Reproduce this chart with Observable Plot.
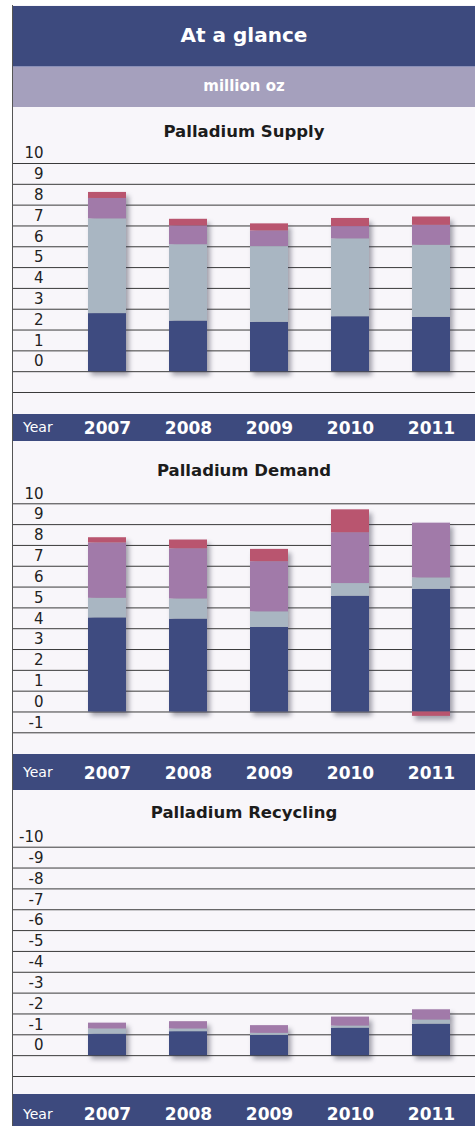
<!DOCTYPE html>
<html>
<head>
<meta charset="utf-8">
<script src="https://cdn.jsdelivr.net/npm/d3@7"></script>
<script src="https://cdn.jsdelivr.net/npm/@observablehq/plot@0.6"></script>
<style>
  html, body { margin: 0; padding: 0; background: #ffffff; }
  body { width: 475px; height: 1126px; overflow: hidden; position: relative; font-family: "DejaVu Sans", sans-serif; }
  #frame { position: absolute; left: 12px; top: 5px; width: 463px; height: 1121px; background: #f8f6fa; border-left: 1px solid #555; }
  .band { position: absolute; left: 13px; width: 462px; background: #3d4a7e; }
  .head { top: 6px; height: 60px; color: #fff; font-weight: bold; font-size: 20px; text-align: center; line-height: 58px; }
  .sub { position: absolute; left: 13px; width: 462px; top: 66px; height: 41px; background: #a5a0bd; border-top: 1px solid #8a90b8; box-sizing: border-box; color: #fff; font-weight: bold; font-size: 15px; text-align: center; line-height: 38px; }
  .title { position: absolute; left: 13px; width: 462px; height: 24px; line-height: 24px; text-align: center; font-weight: bold; font-size: 16.5px; color: #1c1c1c; }
  .year { position: absolute; color: #fff; font-size: 14px; }
  .chart { position: absolute; left: 0; }
</style>
</head>
<body>
<div id="frame"></div>
<div class="band head">At a glance</div>
<div class="sub">million oz</div>

<div class="title" style="top:120px">Palladium Supply</div>
<div class="band" style="top:414px;height:27px"><span class="year" style="left:10px;top:5px">Year</span></div>
<div class="chart" id="supply" style="top:145px"></div>

<div class="title" style="top:459px">Palladium Demand</div>
<div class="band" style="top:754px;height:36px"><span class="year" style="left:10px;top:10px">Year</span></div>
<div class="chart" id="demand" style="top:485px"></div>

<div class="title" style="top:801px">Palladium Recycling</div>
<div class="band" style="top:1094px;height:32px"><span class="year" style="left:10px;top:12px">Year</span></div>
<div class="chart" id="recycling" style="top:828px"></div>

<script>
// ---- Data (million oz) ----
const years = ["2007", "2008", "2009", "2010", "2011"];

// Supply
const supplySeries = ["South Africa", "Russia", "North America", "Others"];
const supplySouthAfrica = [2.79, 2.43, 2.37, 2.64, 2.61];
const supplyRussia      = [4.55, 3.67, 3.64, 3.74, 3.46];
const supplyNorthAmerica= [0.98, 0.90, 0.75, 0.59, 0.96];
const supplyOthers      = [0.29, 0.32, 0.34, 0.39, 0.40];
const supplyTicks = [0, 1, 2, 3, 4, 5, 6, 7, 8, 9, 10];
const supplyGrid  = [-1, 0, 1, 2, 3, 4, 5, 6, 7, 8, 9, 10];

// Demand
const demandSeries = ["Autocatalyst", "Jewellery", "Industrial", "Investment"];
const demandAutocatalyst = [4.52, 4.46, 4.06, 5.56, 5.89];
const demandJewellery    = [0.94, 0.97, 0.75, 0.61, 0.55];
const demandIndustrial   = [2.66, 2.41, 2.41, 2.44, 2.63];
const demandInvestment   = [0.25, 0.42, 0.59, 1.10, -0.21];
const demandTicks = [-1, 0, 1, 2, 3, 4, 5, 6, 7, 8, 9, 10];
const demandGrid  = [-1, 0, 1, 2, 3, 4, 5, 6, 7, 8, 9, 10];

// Recycling (negative supply)
const recyclingSeries = ["Autocatalyst", "Jewellery", "Electronics"];
const recyclingAutocatalyst = [-1.03, -1.15, -0.97, -1.32, -1.51];
const recyclingJewellery    = [-0.25, -0.13, -0.10, -0.10, -0.20];
const recyclingElectronics  = [-0.28, -0.35, -0.37, -0.43, -0.49];
const recyclingTicks = [-10, -9, -8, -7, -6, -5, -4, -3, -2, -1, 0];
const recyclingGrid  = [-10, -9, -8, -7, -6, -5, -4, -3, -2, -1, 0, 1];

const colors4 = ["#3e4b80", "#a9b6c2", "#a17aa9", "#b9556f"];

function rows(series, arrays) {
  const out = [];
  series.forEach((s, i) => years.forEach((y, j) => out.push({year: y, series: s, value: arrays[i][j]})));
  return out;
}

function chart({data, series, domain, reverse, ticks, grid, height, marginTop, marginBottom, xPad}) {
  const ML = 65, MR = 2;
  const p = Plot.plot({
    width: 475,
    height,
    marginLeft: ML,
    marginRight: MR,
    marginTop,
    marginBottom,
    style: {background: "transparent", fontFamily: "DejaVu Sans", overflow: "visible", color: "#222"},
    x: {type: "band", domain: years, paddingInner: 0.534, paddingOuter: 0.267, label: null},
    y: {domain, reverse, label: null},
    color: {domain: series, range: colors4.slice(0, series.length)},
    marks: [
      Plot.ruleY(grid, {stroke: "#3a3a3a", strokeWidth: 1, insetLeft: -(ML - 13), insetRight: -MR}),
      Plot.axisY(ticks, {anchor: "left", tickSize: 0, tickPadding: 22, dy: -10, fontSize: 15,
        tickFormat: d => String(d), label: null, color: "#222"}),
      Plot.barY(data, Plot.stackY({x: "year", y: "value", fill: "series", order: series})),
      Plot.axisX({anchor: "bottom", tickSize: 0, tickPadding: xPad, fontSize: 17, fontWeight: "bold",
        color: "#ffffff", label: null})
    ]
  });
  p.querySelectorAll('g[aria-label="bar"]').forEach(g => {
    g.style.filter = "drop-shadow(3px 4px 2.5px rgba(50,50,70,0.45))";
  });
  return p;
}

document.getElementById("supply").appendChild(chart({
  data: rows(supplySeries, [supplySouthAfrica, supplyRussia, supplyNorthAmerica, supplyOthers]),
  series: supplySeries, domain: [-1, 10], reverse: false,
  ticks: supplyTicks, grid: supplyGrid,
  height: 296, marginTop: 18, marginBottom: 49, xPad: 29
}));

document.getElementById("demand").appendChild(chart({
  data: rows(demandSeries, [demandAutocatalyst, demandJewellery, demandIndustrial, demandInvestment]),
  series: demandSeries, domain: [-1, 10], reverse: false,
  ticks: demandTicks, grid: demandGrid,
  height: 305, marginTop: 18.3, marginBottom: 57.7, xPad: 34
}));

document.getElementById("recycling").appendChild(chart({
  data: rows(recyclingSeries, [recyclingAutocatalyst, recyclingJewellery, recyclingElectronics]),
  series: recyclingSeries, domain: [-10, 1], reverse: true,
  ticks: recyclingTicks, grid: recyclingGrid,
  height: 298, marginTop: 18.7, marginBottom: 50, xPad: 31
}));
</script>
</body>
</html>
